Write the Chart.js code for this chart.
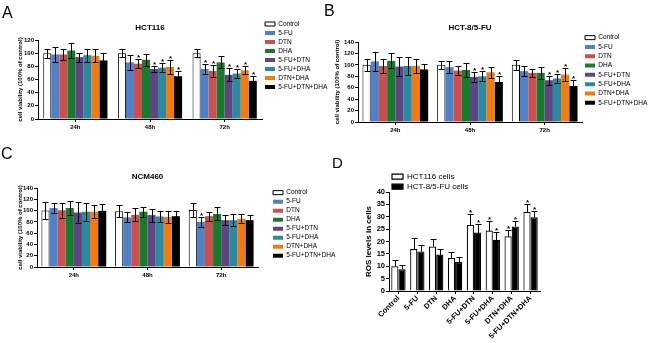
<!DOCTYPE html>
<html><head><meta charset="utf-8">
<script src="https://cdn.jsdelivr.net/npm/chart.js@4.4.1/dist/chart.umd.min.js"></script>
<style>
html,body{margin:0;padding:0;background:#fff;}
body{width:650px;height:343px;position:relative;overflow:hidden;font-family:"Liberation Sans",Arial,sans-serif;}
canvas{position:absolute;}
.lab{position:absolute;font-size:16px;line-height:16px;color:#000;}
</style></head><body>
<canvas id="cA" width="340" height="134" style="left:0;top:0"></canvas>
<canvas id="cB" width="325" height="137" style="left:325px;top:0"></canvas>
<canvas id="cC" width="340" height="137" style="left:0;top:145px"></canvas>
<canvas id="cD" width="325" height="198" style="left:325px;top:145px"></canvas>
<div class="lab" style="left:2px;top:5px">A</div>
<div class="lab" style="left:324px;top:3px">B</div>
<div class="lab" style="left:1px;top:146px">C</div>
<div class="lab" style="left:332px;top:155px;font-size:15px">D</div>
<script>
// ---------- data ----------
const timeLabels = ['24h', '48h', '72h'];
const groupNames = ['Control', '5-FU', 'DTN', 'DHA', '5-FU+DTN', '5-FU+DHA', 'DTN+DHA', '5-FU+DTN+DHA'];
const groupColors = ['#ffffff', '#4f81c4', '#c9504f', '#187a2c', '#5d4682', '#2b8aa0', '#ef7b13', '#000000'];

// Panel A: HCT116 (rows = groups, cols = 24h/48h/72h)
const hct116Mean = [[100,100,100],[98,86,76],[98,84,73],[104,90,86],[94,76,67],[97,78,69],[96,79,74],[89,65,58]];
const hct116Err  = [[7,6,6],[12,11,8],[9,7,9],[11,9,9],[7,5,10],[10,6.5,7],[10,10,6],[11,7.5,7]];
const hct116Sig  = [[0,0,0],[0,0,1],[0,1,1],[0,0,0],[0,1,1],[0,1,1],[0,1,1],[0,1,1]];

// Panel B: HCT-8/5-FU
const hct8Mean = [[100,100,100],[106,96,89],[98,90,86],[107,91,86],[97,79,73],[98,80,76],[98,87,83],[92,70,63]];
const hct8Err  = [[10,7,9],[16,10,8.5],[12,7.5,7.5],[13,12,10],[16,9,7.5],[15,9,8],[12,10,11.5],[9,10,10]];
const hct8Sig  = [[0,0,0],[0,0,0],[0,0,0],[0,0,0],[0,1,1],[0,1,1],[0,0,1],[0,1,1]];

// Panel C: NCM460
const ncmMean = [[100,99,101],[104.5,88,80],[100.5,92.5,90],[104.5,98,94],[96.5,92,83],[98,89.5,83],[98,88.5,85.5],[99.5,90,83]];
const ncmErr  = [[15,11,13],[9,9,8.5],[13,11.5,8],[13,9,11.5],[18,11.5,9],[16,9,10.5],[12,10,8],[12,10,9]];
const ncmSig  = [[0,0,0],[0,0,1],[0,0,0],[0,0,0],[0,0,0],[0,0,0],[0,0,0],[0,0,0]];

// Panel D: ROS levels
const rosLabels = ['Control', '5-FU', 'DTN', 'DHA', '5-FU+DTN', '5-FU+DHA', 'DTN+DHA', '5-FU+DTN+DHA'];
const rosSeries = ['HCT116 cells', 'HCT-8/5-FU cells'];
const rosHct116 = [10, 17, 18, 13.3, 26.7, 24.4, 22.1, 32];
const rosHct116Err = [2.7, 4.5, 3, 2.4, 4.3, 4, 2.7, 3.2];
const rosHct8 = [8.8, 16, 14.7, 11.7, 23.6, 20.7, 26.1, 29.8];
const rosHct8Err = [1.9, 2.4, 2.3, 2.1, 3.4, 3.2, 2, 2.6];
const rosSig = [0, 0, 0, 0, 1, 1, 1, 1];

// ---------- plugins ----------
Chart.defaults.font.family = '"Liberation Sans", Arial, sans-serif';
Chart.defaults.color = '#000';

const errorBarPlugin = {
  id: 'errbars',
  afterDatasetsDraw(chart, args, opts) {
    const ctx = chart.ctx, ys = chart.scales.y;
    chart.data.datasets.forEach((ds, di) => {
      if (!ds.errors) return;
      const meta = chart.getDatasetMeta(di);
      meta.data.forEach((bar, i) => {
        const v = ds.data[i], e = ds.errors[i];
        const x = Math.round(bar.x) + 0.5;
        const top = Math.round(ys.getPixelForValue(v + e)) + 0.5;
        const bot = Math.round(ys.getPixelForValue(opts.oneSided ? v : v - e)) + 0.5;
        const cw = Math.round(bar.width * opts.cap / 2);
        ctx.save();
        ctx.strokeStyle = '#000'; ctx.lineWidth = 1;
        ctx.beginPath();
        ctx.moveTo(x, top); ctx.lineTo(x, bot);
        ctx.moveTo(x - cw, top); ctx.lineTo(x + cw, top);
        if (!opts.oneSided) { ctx.moveTo(x - cw, bot); ctx.lineTo(x + cw, bot); }
        ctx.stroke();
        if (ds.sig && ds.sig[i]) {
          ctx.fillStyle = '#000';
          ctx.font = opts.starFont;
          ctx.textAlign = 'center';
          ctx.textBaseline = 'alphabetic';
          ctx.fillText('*', x, top + opts.starDy);
        }
        ctx.restore();
      });
    });
  }
};

const legendPos = {
  id: 'legendPos',
  afterLayout(chart, args, opts) {
    const lg = chart.legend;
    if (!lg || opts.x == null) return;
    const p = lg.options.labels.padding;
    const w = lg.width, h = lg.height;
    lg.left = opts.x - p; lg.top = opts.y - p;
    lg.right = lg.left + w; lg.bottom = lg.top + h;
  }
};

function viabilityChart(id, title, mean, err, sig, yMax, g) {
  const datasets = groupNames.map((name, k) => ({
    label: name,
    data: mean[k],
    errors: err[k],
    sig: sig[k],
    backgroundColor: groupColors[k],
    borderColor: '#000',
    borderWidth: k === 0 ? 1 : 0,
    categoryPercentage: g.cat,
    barPercentage: 1
  }));
  return new Chart(document.getElementById(id), {
    type: 'bar',
    data: { labels: timeLabels, datasets },
    options: {
      responsive: false, animation: false,
      layout: { padding: { left: 0, top: 0, right: g.padR, bottom: 0 } },
      scales: {
        x: {
          grid: { offset: false, drawOnChartArea: false, drawTicks: true, tickLength: 3, color: '#000', lineWidth: 1 },
          border: { display: true, color: '#000', width: 1 },
          ticks: { font: { size: 6, weight: 'bold' }, color: '#000', padding: 2, maxRotation: 0, autoSkip: false },
          afterFit: s => { s.height = 15; }
        },
        y: {
          min: 0, max: yMax,
          ticks: { stepSize: 20, font: { size: 6, weight: 'bold' }, color: '#000', padding: 1 },
          grid: { drawOnChartArea: false, tickLength: 3, color: '#000' },
          border: { display: true, color: '#000', width: 1 },
          title: { display: true, text: 'cell viability (100% of control)', font: { size: 6, weight: 'bold' }, color: '#000', padding: { top: g.ytp, bottom: 0 } },
          afterFit: s => { s.width = g.yw; }
        }
      },
      plugins: {
        legend: { position: 'chartArea', align: 'start',
          labels: { boxWidth: 10, boxHeight: 4, padding: g.lp, font: { size: 6.5 }, color: '#000' } },
        title: { display: true, text: title, fullSize: false, font: { size: 8, weight: 'bold' }, color: '#000', padding: { top: g.tpt, bottom: g.tpb } },
        tooltip: { enabled: false },
        legendPos: { x: g.lx, y: g.ly },
        errbars: { cap: 0.75, starFont: 'bold 8px "Liberation Sans", Arial, sans-serif', starDy: 0 }
      }
    },
    plugins: [errorBarPlugin, legendPos]
  });
}

viabilityChart('cA', 'HCT116', hct116Mean, hct116Err, hct116Sig, 120,
  { cat: 0.86, padR: 78, yw: 38, ytp: 16.9, tpt: 22.7, tpb: 7.7, lx: 265, ly: 20.75, lp: 2.5 });
viabilityChart('cB', 'HCT-8/5-FU', hct8Mean, hct8Err, hct8Sig, 140,
  { cat: 0.88, padR: 68, yw: 33, ytp: 8.9, tpt: 23.2, tpb: 9.2, lx: 260, ly: 34.4, lp: 2.8 });
viabilityChart('cC', 'NCM460', ncmMean, ncmErr, ncmSig, 140,
  { cat: 0.88, padR: 82, yw: 37, ytp: 16.4, tpt: 27.2, tpb: 6.2, lx: 273, ly: 44.4, lp: 2.5 });

new Chart(document.getElementById('cD'), {
  type: 'bar',
  data: {
    labels: rosLabels,
    datasets: [
      { label: rosSeries[0], data: rosHct116, errors: rosHct116Err, sig: rosSig,
        backgroundColor: '#ffffff', borderColor: '#000', borderWidth: 1.2,
        categoryPercentage: 0.76, barPercentage: 1 },
      { label: rosSeries[1], data: rosHct8, errors: rosHct8Err, sig: rosSig,
        backgroundColor: '#000000', borderColor: '#000', borderWidth: 1.2,
        categoryPercentage: 0.76, barPercentage: 1 }
    ]
  },
  options: {
    responsive: false, animation: false,
    layout: { padding: { left: 0, top: 47, right: 110, bottom: 0 } },
    scales: {
      x: {
        grid: { offset: false, drawOnChartArea: false, drawTicks: true, tickLength: 3, color: '#000' },
        border: { display: true, color: '#000', width: 1 },
        ticks: { font: { size: 7.5, weight: 'bold' }, color: '#000', padding: 0, minRotation: 45, maxRotation: 45, autoSkip: false },
        afterFit: s => { s.height = 52; }
      },
      y: {
        min: 0, max: 40,
        ticks: { stepSize: 5, font: { size: 7.5, weight: 'bold' }, color: '#000', padding: 1 },
        grid: { drawOnChartArea: false, tickLength: 3, color: '#000' },
        border: { display: true, color: '#000', width: 1 },
        title: { display: true, text: 'ROS levels in cells', font: { size: 8, weight: 'bold' }, color: '#000', padding: { top: 38.5, bottom: 0 } },
        afterFit: s => { s.width = 64; }
      }
    },
    plugins: {
      legend: { position: 'chartArea', align: 'start',
        labels: { boxWidth: 11, boxHeight: 5, padding: 2, font: { size: 8 }, color: '#000' } },
      title: { display: false },
      tooltip: { enabled: false },
      legendPos: { x: 67, y: 27.7 },
      errbars: { cap: 0.7, oneSided: true, starFont: 'bold 8px "Liberation Sans", Arial, sans-serif', starDy: 0 }
    }
  },
  plugins: [errorBarPlugin, legendPos]
});
</script>
</body></html>
